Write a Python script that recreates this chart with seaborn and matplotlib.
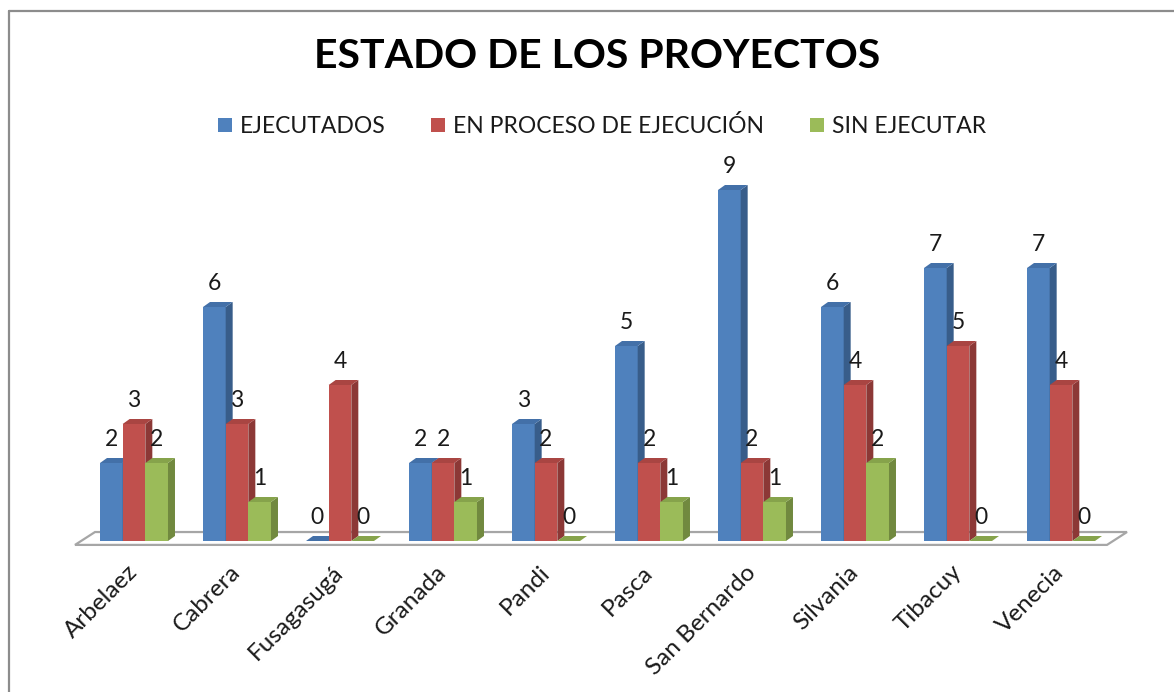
import pandas as pd
import numpy as np
import matplotlib.pyplot as plt
import seaborn as sns
from matplotlib.patches import Polygon
from matplotlib.lines import Line2D

# Data
municipios = ['Arbelaez', 'Cabrera', 'Fusagasugá', 'Granada', 'Pandi',
              'Pasca', 'San Bernardo', 'Silvania', 'Tibacuy', 'Venecia']
ejecutados = [2, 6, 0, 2, 3, 5, 9, 6, 7, 7]
en_proceso = [3, 3, 4, 2, 2, 2, 2, 4, 5, 4]
sin_ejecutar = [2, 1, 0, 1, 0, 1, 1, 2, 0, 0]
estados = ['EJECUTADOS', 'EN PROCESO DE EJECUCIÓN', 'SIN EJECUTAR']

df = pd.DataFrame({
    'Municipio': municipios * 3,
    'Estado': np.repeat(estados, len(municipios)),
    'Cantidad': ejecutados + en_proceso + sin_ejecutar,
})

front = ['#4F81BD', '#C0504D', '#9BBB59']
side = ['#385D8A', '#8C3836', '#71893F']
top = ['#4370A8', '#A94542', '#86A34B']

sns.set_style('white')
plt.rcParams['font.family'] = ['Lato', 'DejaVu Sans']

W, H = 1174, 692
fig = plt.figure(figsize=(W / 100, H / 100), dpi=100)

# layout in pixels: category 0 at x=134, 103 px per category, y=0 at 541, 39 px per unit
x0px, pxu = 134, 103
y0px, pyu = 541, 39
left_px, right_px = 60, 1140
ylo, yhi = -0.5, 10.0
bot_px = y0px - ylo * pyu
top_px = y0px - yhi * pyu
ax = fig.add_axes([left_px / W, 1 - bot_px / H, (right_px - left_px) / W, (bot_px - top_px) / H])

sns.barplot(data=df, x='Municipio', y='Cantidad', hue='Estado', palette=front,
            width=0.66, saturation=1, linewidth=0, ax=ax)
handles, labels = ax.get_legend_handles_labels()
ax.get_legend().remove()

ax.set_xlim((left_px - x0px) / pxu, (right_px - x0px) / pxu)
ax.set_ylim(ylo, yhi)

# floor of the 3D plot
floor = Polygon([((75 - x0px) / pxu, -0.10), ((1107 - x0px) / pxu, -0.10),
                 ((1127 - x0px) / pxu, 0.23), ((95 - x0px) / pxu, 0.23)],
                closed=True, facecolor='white', edgecolor='#A6A6A6', lw=1.6, zorder=0.5)
ax.add_patch(floor)

# depth faces for each bar
dx, dy = 7 / pxu, 5 / pyu
for k, cont in enumerate(ax.containers):
    for bar in cont:
        bx, bw, bh = bar.get_x(), bar.get_width(), bar.get_height()
        z = 2 + bx * 0.1
        bar.set_zorder(z)
        ax.add_patch(Polygon([(bx + bw, 0), (bx + bw + dx, dy), (bx + bw + dx, bh + dy), (bx + bw, bh)],
                             closed=True, facecolor=side[k], lw=0, zorder=z + 0.001))
        ax.add_patch(Polygon([(bx, bh), (bx + dx, bh + dy), (bx + bw + dx, bh + dy), (bx + bw, bh)],
                             closed=True, facecolor=top[k], lw=0, zorder=z + 0.002))
        ax.annotate(f'{int(bh)}', (bx + bw / 2, bh), xytext=(0, 17), textcoords='offset points',
                    ha='center', va='center', fontsize=16.5, color='#1a1a1a', zorder=10)

sns.despine(ax=ax, left=True, bottom=True)
ax.set_yticks([])
ax.set_xlabel('')
ax.set_ylabel('')
ax.set_xticks(range(len(municipios)))
ax.set_xticklabels(municipios, rotation=45, ha='right', va='center',
                   rotation_mode='anchor', fontsize=17.5, color='#1a1a1a')
ax.tick_params(axis='x', length=0, pad=6)
ax.patch.set_alpha(0)

fig.text(597 / W, 1 - 57 / H, 'ESTADO DE LOS PROYECTOS', ha='center', va='center',
         fontsize=29.5, fontweight='bold', color='black')

fig.legend(handles, labels, loc='center', bbox_to_anchor=(602 / W, 1 - 126 / H), ncol=3,
           frameon=False, fontsize=16.5, handlelength=0.6, handleheight=0.6,
           handletextpad=0.35, columnspacing=2.0, labelcolor='#1a1a1a')

# chart border (left and top edges visible)
fig.add_artist(Line2D([9 / W, 9 / W], [0, 1 - 11 / H], color='#8C8C8C', lw=1.6))
fig.add_artist(Line2D([9 / W, 1], [1 - 11 / H, 1 - 11 / H], color='#8C8C8C', lw=1.6))

fig.savefig('out.png', dpi=100)
